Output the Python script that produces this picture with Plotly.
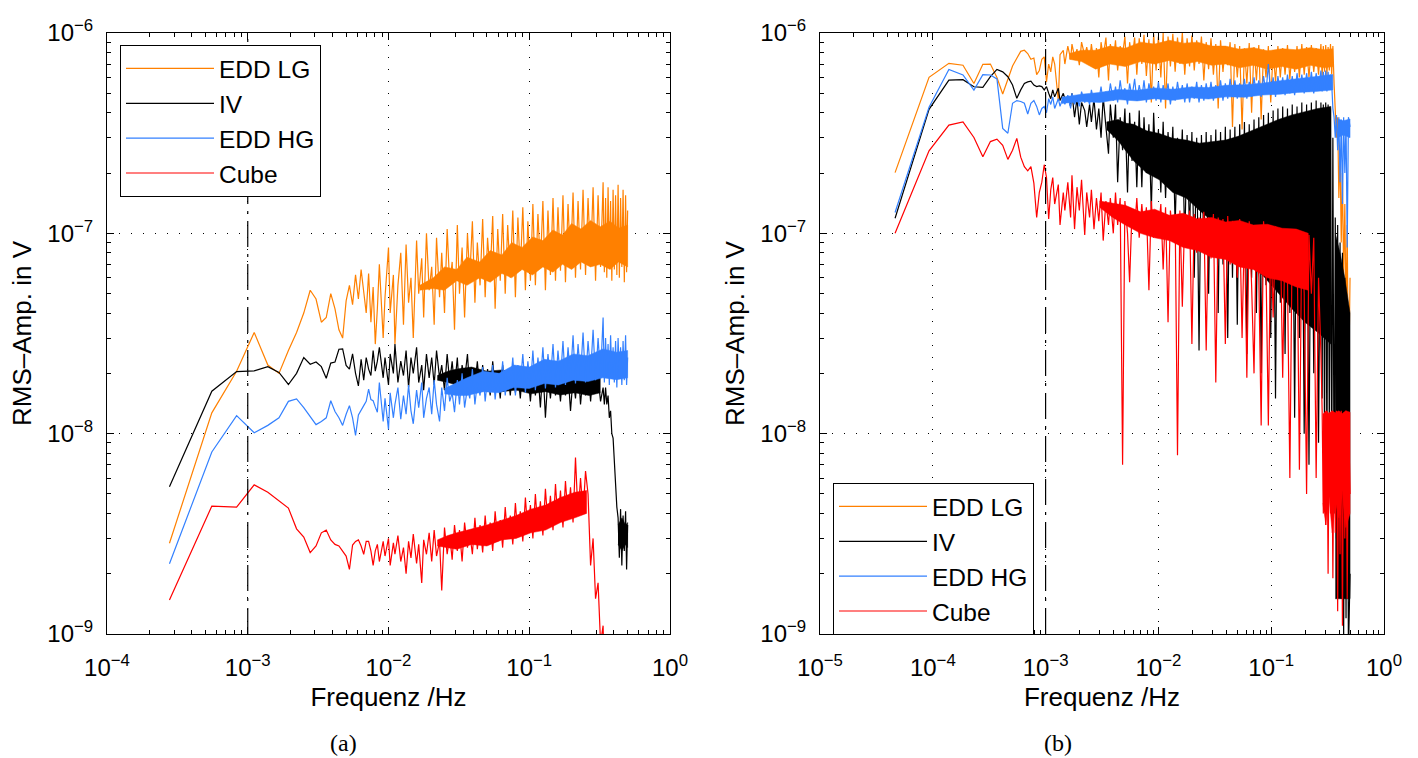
import plotly.graph_objects as go

# ---------------- data ----------------
# FFT bin indices; frequency = bin * resolution
DF_A = 1 / 3600.0      # Hz, panel (a)
DF_B = 1 / 21600.0     # Hz, panel (b)

bins_a = [
    1, 2, 3, 4, 5, 6, 7, 8, 9, 10,
    11, 12, 13, 14, 15, 16, 17, 18, 19, 20,
    21, 22, 23, 24, 25, 26, 27, 28, 29, 30,
    31, 33, 34, 36, 37, 39, 40, 42, 44, 46,
    48, 50, 52, 54, 57, 59, 62, 64, 67, 70,
    73, 76, 79, 83, 86, 90, 94, 98, 102, 106,
    111, 115, 120, 125, 131, 136, 142, 148, 154, 161,
    168, 175, 182, 190, 198, 206, 215, 224, 233, 243,
    253, 264, 275, 287, 299, 311, 324, 338, 352, 367,
    382, 398, 415, 432, 450, 469, 489, 509, 531, 553,
    576, 600, 625, 651, 679, 707, 737, 767, 800, 833,
    868, 904, 942, 982, 1023, 1065, 1110, 1156, 1205, 1230,
    1255, 1280, 1307, 1334, 1362, 1390, 1419, 1448, 1478, 1509,
    1540, 1572, 1604, 1637, 1671, 1705, 1741, 1770, 1800,
]

# amplitudes in nV, panel (a)
lg_a = [
    2.84, 12.7, 20.5, 32, 22, 20, 26, 32, 40, 52,
    47, 36, 38, 50, 42, 33, 30, 46, 55, 44,
    62, 47, 66, 50, 40, 63, 36, 54, 28, 42,
    70, 30, 48, 85, 40, 62, 28, 55, 80, 35,
    88, 45, 60, 30, 92, 50, 75, 38, 100, 52,
    68, 35, 95, 48, 80, 40, 105, 55, 72, 33,
    110, 50, 85, 38, 100, 60, 115, 45, 90, 55,
    118, 48, 95, 62, 122, 42, 105, 58, 125, 50,
    110, 60, 130, 48, 120, 65, 135, 52, 115, 58,
    140, 55, 125, 68, 145, 52, 130, 62, 150, 58,
    135, 65, 155, 57, 140, 70, 160, 60, 145, 66,
    165, 62, 150, 72, 170, 58, 155, 68, 180, 64,
    150, 60, 170, 70, 145, 58, 165, 66, 155, 62,
    175, 60, 150, 68, 165, 57, 155, 64, 130,
]
iv_a = [
    5.43, 16.3, 20.4, 20.6, 21.6, 20.2, 17.6, 20, 24, 22.2,
    22.8, 21.6, 18.9, 22.5, 22.8, 26.4, 26.5, 21.9, 21, 25,
    20, 17.3, 23.5, 18.5, 24, 21, 19.5, 26, 20.5, 23,
    27, 19, 24, 17.5, 25, 20, 28, 18, 23, 19.5,
    26, 17, 24, 20, 27, 18, 22, 16.5, 25, 19,
    24, 17.5, 26, 19, 22, 16.5, 25, 18, 23, 17,
    24, 16, 22, 18.5, 25, 16.5, 21, 17.5, 23, 16,
    22, 16.5, 21, 15.5, 23, 17, 20, 15, 22, 16.5,
    20.5, 15.5, 22, 16, 20, 15, 21.5, 16.5, 19.5, 14.5,
    21, 15.5, 20, 13.5, 21.5, 12, 19.5, 15, 20.5, 15.5,
    19.5, 14.5, 21, 15.5, 20, 13, 19, 15, 21.5, 14,
    19.5, 15.5, 22, 14.5, 21, 16, 19, 14.5, 17, 14,
    17, 14, 15.5, 12, 13, 10, 9.5, 7, 5.5, 4.3,
    3.8, 2.4, 4.2, 2.2, 3.9, 2.6, 4.1, 2.1, 3.5,
]
hg_a = [
    2.24, 8.1, 12.3, 10.1, 11, 12, 14.5, 14.9, 13.5, 12.2,
    11.1, 11.5, 12, 14.6, 12.9, 12, 11, 12.5, 13.8, 12,
    9.8, 12.4, 13, 13.8, 14.5, 16.7, 14.8, 14.6, 13.6, 12.8,
    18, 11.5, 15, 10.5, 16, 12, 14, 17, 11.8, 15.5,
    12.5, 17.5, 13, 11.2, 16.5, 13.5, 18, 12, 15, 17,
    12.5, 18.5, 14, 11.5, 17, 13, 19, 14.5, 16, 12.8,
    18.5, 14, 20, 13.5, 17, 15, 21, 14, 18, 15.5,
    21.5, 14.5, 19, 16, 22, 14.8, 20, 16.5, 23, 15.5,
    20.5, 17, 24, 15.5, 22, 17.5, 25, 16, 23, 17,
    26, 16.5, 24, 18, 27, 16.8, 25, 18.5, 28, 17,
    26, 18.5, 29, 17.5, 27, 19, 31, 17.8, 28, 19.5,
    32, 18, 29, 20, 33, 18.5, 30, 19.5, 38, 18,
    30, 19, 28, 17.5, 31, 20, 27, 18, 29, 17,
    30, 19, 27, 17.5, 29, 18.5, 31, 17.5, 24,
]
cube_a = [
    1.48, 4.35, 4.3, 5.55, 5.1, 4.6, 4.25, 3.35, 3.05, 2.55,
    2.75, 3.2, 3.3, 2.95, 2.8, 2.75, 2.6, 2.45, 2.1, 2.78,
    2.9, 2.95, 2.75, 2.5, 2.9, 2.9, 2.6, 2.2, 2.6, 2.8,
    2.3, 2.9, 2.45, 3.0, 2.2, 2.85, 2.5, 3.1, 2.3, 2.7,
    2.0, 2.9, 2.4, 3.15, 2.25, 2.8, 1.8, 2.95, 2.5, 3.2,
    2.3, 3.3, 2.45, 2.9, 1.65, 3.4, 2.5, 3.1, 2.35, 3.5,
    2.6, 3.3, 2.3, 3.6, 2.7, 3.2, 2.5, 3.8, 2.65, 3.5,
    2.55, 3.9, 2.8, 3.6, 2.6, 4.1, 2.9, 3.7, 2.7, 4.3,
    3.0, 3.9, 2.8, 4.5, 3.1, 4.1, 2.9, 4.8, 3.2, 4.4,
    3.0, 5.0, 3.3, 4.6, 3.1, 5.3, 3.5, 4.9, 3.3, 5.6,
    3.6, 5.2, 3.4, 5.8, 3.8, 5.4, 3.6, 7.6, 3.9, 6.0,
    4.0, 6.5, 5.0, 2.2, 3.0, 1.5, 1.8, 0.9, 1.1, 0.6,
    None, None, None, None, None, None, None, None, None, None,
    None, None, None, None, None, None, None, None, None,
]

# solid cores of the dense noise bands, panel (a): bins, low nV, high nV
band_lg_a = ([60, 75, 90, 110, 130, 160, 190, 230, 270, 320, 380, 450,
              530, 620, 720, 840, 980, 1150, 1350, 1550, 1800],
             [52, 53, 52, 58, 55, 60, 57, 63, 60, 66, 62, 68,
              64, 70, 66, 72, 68, 70, 66, 72, 68],
             [55, 60, 68, 66, 76, 72, 82, 78, 90, 85, 96, 92,
              104, 98, 112, 105, 116, 108, 115, 106, 110])
band_iv_a = ([80, 95, 110, 140, 180, 230, 290, 370, 470, 600, 760, 960, 1150,
              None, 1540, 1640, 1740, 1800],
             [18.5, 18, 17.5, 17, 16.8, 16.2, 16.5, 15.8, 16.2, 15.6, 16, 15.5, 16,
              None, 2.8, 2.6, 2.8, 2.7],
             [19.5, 20.5, 21, 21.5, 20.5, 20.8, 20, 20.4, 19.6, 20.2, 19.5, 20, 19.2,
              None, 3.5, 3.8, 3.5, 3.6])
band_hg_a = ([90, 110, 130, 170, 220, 280, 360, 460, 580, 740, 940, 1200, 1500, 1800],
             [15.8, 15.5, 15.5, 16.2, 16, 17, 16.8, 17.8, 17.5, 18.5, 18.2, 19, 18.6, 19],
             [16.8, 18, 19, 20.5, 20, 22, 21.5, 23.5, 23, 25, 24.5, 26.5, 25.5, 26])
band_cube_a = ([80, 95, 110, 140, 180, 230, 290, 370, 470, 600, 760, 920],
               [2.75, 2.7, 2.65, 2.8, 2.75, 2.95, 3.0, 3.2, 3.3, 3.6, 3.8, 4.0],
               [2.95, 3.1, 3.2, 3.35, 3.5, 3.7, 3.9, 4.2, 4.4, 4.8, 5.1, 5.2])

bins_b = [
    1, 2, 3, 4, 5, 6, 7, 8, 9, 10,
    11, 12, 13, 14, 15, 16, 17, 18, 19, 20,
    21, 22, 23, 24, 25, 26, 28, 29, 31, 32,
    34, 36, 37, 39, 41, 43, 45, 48, 50, 53,
    55, 58, 61, 64, 67, 70, 74, 78, 81, 86,
    90, 94, 99, 104, 109, 115, 120, 126, 133, 139,
    146, 154, 161, 169, 178, 187, 196, 206, 216, 227,
    238, 250, 263, 276, 290, 304, 319, 335, 352, 370,
    388, 408, 428, 449, 472, 495, 520, 546, 573, 602,
    632, 664, 697, 732, 768, 807, 847, 889, 934, 980,
    1029, 1081, 1135, 1192, 1251, 1314, 1379, 1448, 1521, 1597,
    1677, 1760, 1848, 1941, 2038, 2140, 2247, 2359, 2477, 2601,
    2731, 2867, 3011, 3161, 3319, 3485, 3659, 3842, 4035, 4236,
    4448, 4671, 4904, 5149, 5407, 5677, 5961, 6110, 6259, 6415,
    6572, 6735, 6901, 7070, 7246, 7425, 7608, 7795, 7988, 8185,
    8388, 8595, 8807, 9025, 9248, 9476, 9710, 9950, 10195, 10450,
    10800,
]

# amplitudes in nV, panel (b)
lg_b = [
    201, 601, 706, 690, 560, 698, 700, 600, 496, 580,
    684, 748, 810, 820, 790, 740, 750, 620, 650, 740,
    760, 570, 700, 640, 760, 700, 460, 780, 820, 700,
    860, 740, 880, 760, 830, 690, 900, 770, 850, 720,
    880, 700, 840, 600, 900, 760, 950, 580, 880, 720,
    920, 650, 860, 780, 960, 560, 900, 740, 950, 620,
    940, 700, 980, 610, 930, 450, 990, 650, 960, 600,
    1000, 420, 960, 680, 990, 640, 950, 700, 1000, 620,
    940, 680, 970, 650, 920, 700, 960, 580, 900, 660,
    940, 620, 880, 420, 920, 640, 860, 690, 900, 340,
    880, 600, 860, 330, 840, 560, 890, 400, 850, 580,
    870, 370, 830, 600, 860, 450, 820, 570, 860, 600,
    840, 620, 870, 590, 820, 640, 860, 600, 880, 620,
    850, 600, 870, 640, 840, 620, 880, 600, 860, 640,
    870, 610, 850, 650, 880, 620, 860, 560, 420, 300,
    380, 150, 260, 90, 200, 60, 140, 40, 110, 14,
    60,
]
iv_b = [
    119, 416, 582, 585, 539, 535, 605, 658, 640, 605,
    550, 472, 520, 560, 570, 575, 550, 540, 545, 540,
    520, 540, 500, 470, 520, 480, 530, 460, 500, 470,
    480, 430, 500, 380, 470, 350, 450, 410, 340, 440,
    360, 470, 330, 420, 300, 480, 340, 250, 440, 300,
    440, 180, 380, 260, 420, 160, 400, 230, 360, 170,
    410, 170, 380, 200, 350, 130, 400, 190, 330, 160,
    360, 150, 320, 180, 340, 110, 300, 160, 330, 90,
    310, 100, 320, 60, 300, 26, 310, 80, 320, 50,
    310, 90, 330, 40, 320, 70, 340, 30, 330, 60,
    340, 35, 350, 70, 360, 25, 350, 60, 370, 40,
    380, 20, 390, 55, 400, 30, 410, 15, 420, 45,
    430, 25, 420, 40, 440, 12, 430, 30, 450, 10,
    440, 7, 450, 20, 460, 9, 450, 15, 440, 8,
    450, 6, 440, 10, 420, 5, 300, 4, 120, 3,
    110, 2.5, 90, 1.5, 80, 0.9, 60, 1.2, 45, 0.8,
    2,
]
hg_b = [
    127, 426, 658, 617, 519, 620, 617, 590, 334, 316,
    446, 460, 455, 446, 394, 446, 460, 430, 390, 420,
    430, 400, 470, 440, 480, 420, 470, 430, 480, 440,
    490, 420, 500, 440, 480, 430, 510, 450, 490, 440,
    520, 450, 500, 460, 540, 450, 510, 470, 560, 460,
    540, 450, 580, 470, 530, 440, 560, 480, 590, 460,
    550, 470, 580, 450, 560, 480, 540, 460, 570, 450,
    550, 470, 560, 440, 540, 460, 570, 470, 550, 450,
    560, 450, 540, 470, 570, 450, 550, 460, 560, 470,
    570, 460, 550, 480, 580, 460, 560, 470, 590, 480,
    580, 470, 560, 490, 590, 470, 570, 480, 600, 490,
    580, 480, 610, 500, 700, 490, 600, 480, 610, 500,
    600, 490, 620, 500, 610, 490, 630, 510, 620, 500,
    630, 510, 640, 500, 630, 520, 650, 510, 640, 520,
    650, 510, 640, 520, 620, 560, 420, 380, 300, 390,
    260, 380, 180, 370, 140, 380, 200, 360, 85, 380,
    340,
]
cube_b = [
    100, 258, 347, 360, 301, 241, 287, 295, 275, 234,
    260, 298, 240, 215, 205, 215, 178, 120, 160, 180,
    220, 190, 118, 165, 190, 140, 175, 110, 160, 130,
    180, 120, 195, 105, 170, 130, 185, 98, 160, 120,
    165, 105, 150, 115, 160, 92, 145, 110, 150, 100,
    160, 110, 150, 7, 145, 100, 57, 130, 105, 150,
    95, 140, 100, 135, 52, 145, 95, 130, 100, 140,
    66, 135, 36, 130, 95, 125, 7.8, 130, 43, 125,
    90, 130, 28, 125, 80, 120, 85, 128, 26, 120,
    75, 125, 18, 120, 80, 118, 28, 122, 70, 115,
    110, 60, 118, 30, 112, 19, 115, 55, 20, 110,
    60, 11, 115, 70, 11, 110, 38, 108, 65, 105,
    19, 105, 60, 6, 102, 55, 100, 6.6, 100, 50,
    5, 98, 50, 95, 6, 60, 25, 13, 4, 12.5,
    3.5, 13, 2, 12.8, 4, 13, 1.9, 12.5, 3.2, 13,
    1.3, 12.8, 2.5, 13, 1.1, 12.6, 3, 13, 1.5, 12.8,
    5,
]

# solid cores of the dense noise bands, panel (b): bins, low nV, high nV
band_lg_b = ([35, 45, 60, 80, 110, 150, 200, 270, 360, 480, 640, 850,
              1130, 1500, 2000, 2700, 3600, 4800, 6400, 7600],
             [740, 720, 660, 700, 680, 720, 700, 730, 700, 720, 690, 700,
              670, 690, 660, 680, 660, 690, 670, 680],
             [790, 820, 820, 860, 840, 900, 880, 920, 890, 900, 860, 860,
              830, 845, 815, 835, 825, 845, 825, 835])
band_iv_b = ([75, 95, 110, 130, 170, 220, 290, 380, 500, 650, 850, 1100, 1450,
              1900, 2500, 3300, 4300, 5600, 7300, None, 8000, 8800, 9700, 10800],
             [330, 290, 260, 230, 200, 185, 160, 150, 130, 115, 95, 85, 70,
              60, 50, 42, 36, 32, 28, None, 1.5, 1.5, 1.5, 1.5],
             [360, 370, 355, 350, 325, 315, 298, 292, 282, 288, 292, 305, 325,
              345, 370, 390, 405, 420, 430, None, 100, 80, 60, 40])
band_hg_b = ([30, 45, 65, 95, 140, 200, 290, 420, 600, 860,
              1250, 1800, 2600, 3700, 5300, 7600, None, 8400, 9400, 10800],
             [445, 455, 450, 465, 458, 470, 462, 475, 468, 480,
              478, 490, 495, 505, 510, 520, None, 300, 310, 300],
             [478, 495, 505, 522, 518, 532, 524, 538, 534, 548,
              552, 562, 578, 592, 605, 620, None, 372, 365, 372])
band_cube_b = ([65, 85, 110, 150, 200, 270, 360, 480, 640, 850, 1130, 1500,
                2000, 2700, 3600, 4600, None, 6200, 6600, 7000, 7500, 8000,
                8600, 9200, 9900, 10800],
               [135, 120, 110, 100, 95, 92, 85, 82, 76, 74, 68, 66,
                60, 58, 54, 52, None, 4.5, 3.5, 5, 3.2, 4.6,
                3.8, 5.2, 3.4, 4],
               [145, 142, 138, 128, 132, 123, 126, 118, 120, 114, 116, 110,
                111, 106, 105, 100, None, 12.5, 13, 12.6, 13, 12.7,
                13, 12.6, 13, 12.8])

series_names = ["EDD LG", "IV", "EDD HG", "Cube"]
series_colors = ["#FF8000", "#000000", "#3380FF", "#FF0000"]

ref_freq = 1e-3                 # dash-dot marker frequency
y_limits = [1e-9, 1e-6]

x_ticks_a = [1e-4, 1e-3, 1e-2, 1e-1, 1]
x_text_a = ["10<sup>−4</sup>", "10<sup>−3</sup>", "10<sup>−2</sup>", "10<sup>−1</sup>", "10<sup>0</sup>"]
x_ticks_b = [1e-5, 1e-4, 1e-3, 1e-2, 1e-1, 1]
x_text_b = ["10<sup>−5</sup>", "10<sup>−4</sup>", "10<sup>−3</sup>", "10<sup>−2</sup>", "10<sup>−1</sup>", "10<sup>0</sup>"]
y_ticks = [1e-9, 1e-8, 1e-7, 1e-6]
y_text = ["10<sup>−9</sup>", "10<sup>−8</sup>", "10<sup>−7</sup>", "10<sup>−6</sup>"]

x_title = "Frequenz /Hz"
y_title = "RMS–Amp. in V"
captions = ["(a)", "(b)"]

# ---------------- figure ----------------
W, H = 1418, 758
FONT = "Liberation Sans, Arial, Helvetica, sans-serif"
DASHDOT = "26px,7px,3px,7px"


def volts(nv):
    return [None if v is None else v * 1e-9 for v in nv]


def band_polygon(band, df):
    """closed outline: upper envelope forwards, lower envelope backwards, per segment"""
    bins, lo, hi = band
    xs, ys = [], []
    seg = []
    for b, l, h in list(zip(bins, lo, hi)) + [(None, None, None)]:
        if b is None:
            if seg:
                xs += [s[0] * df for s in seg] + [s[0] * df for s in reversed(seg)] + [None]
                ys += [s[2] * 1e-9 for s in seg] + [s[1] * 1e-9 for s in reversed(seg)] + [None]
            seg = []
        else:
            seg.append((b, l, h))
    return xs, ys


fig = go.Figure()

panels = [
    ("x", "y", "legend", bins_a, DF_A, [lg_a, iv_a, hg_a, cube_a],
     [band_lg_a, band_iv_a, band_hg_a, band_cube_a]),
    ("x2", "y2", "legend2", bins_b, DF_B, [lg_b, iv_b, hg_b, cube_b],
     [band_lg_b, band_iv_b, band_hg_b, band_cube_b]),
]

for xa, ya, leg, bins, df, series, bands in panels:
    freqs = [k * df for k in bins]
    for name, col, vals, band in zip(series_names, series_colors, series, bands):
        bx, by = band_polygon(band, df)
        fig.add_trace(go.Scatter(x=bx, y=by, mode="lines", fill="toself", fillcolor=col,
                                 line=dict(color=col, width=0.5), showlegend=False,
                                 hoverinfo="skip", xaxis=xa, yaxis=ya))
        fig.add_trace(go.Scatter(x=freqs, y=volts(vals), mode="lines", name=name,
                                 line=dict(color=col, width=1.2),
                                 xaxis=xa, yaxis=ya, legend=leg))
    fig.add_trace(go.Scatter(x=[ref_freq, ref_freq], y=y_limits, mode="lines",
                             line=dict(color="black", width=1.2, dash=DASHDOT),
                             showlegend=False, hoverinfo="skip", xaxis=xa, yaxis=ya))


def minor_vals(lo, hi):
    return [m * 10.0 ** e for e in range(lo, hi) for m in range(2, 10)]


def axis_style(**kw):
    d = dict(type="log", showline=True, linecolor="black", linewidth=1,
             mirror="allticks", ticks="inside", ticklen=7, tickwidth=1, tickcolor="black",
             showgrid=True, gridcolor="black", gridwidth=1, griddash="1px,11px",
             zeroline=False, automargin=False,
             tickfont=dict(family=FONT, size=24, color="black"))
    d.update(kw)
    return d


def minor_style(lo, hi):
    return dict(ticks="inside", ticklen=4, tickcolor="black", tickwidth=1,
                showgrid=False, tickmode="array", tickvals=minor_vals(lo, hi))


dom_a = [107 / W, 670 / W]
dom_b = [820 / W, 1384 / W]
dom_y = [(H - 634) / H, (H - 33) / H]

legend_common = dict(xanchor="left", yanchor="top", bgcolor="white",
                     bordercolor="black", borderwidth=1,
                     font=dict(family=FONT, size=24.5, color="black"),
                     tracegroupgap=0, itemwidth=88)

fig.update_layout(
    width=W, height=H, template="none",
    margin=dict(l=0, r=0, t=0, b=0),
    paper_bgcolor="white", plot_bgcolor="white",
    font=dict(family=FONT, size=24, color="black"),
    xaxis=axis_style(domain=dom_a, anchor="y", range=[-4, 0],
                     tickmode="array", tickvals=x_ticks_a, ticktext=x_text_a,
                     ticklabelstandoff=12, minor=minor_style(-4, 0),
                     title=dict(text=x_title, font=dict(family=FONT, size=26), standoff=8)),
    yaxis=axis_style(domain=dom_y, anchor="x", range=[-9, -6],
                     tickmode="array", tickvals=y_ticks, ticktext=y_text,
                     ticklabelstandoff=8, minor=minor_style(-9, -6),
                     title=dict(text=y_title, font=dict(family=FONT, size=26), standoff=8)),
    xaxis2=axis_style(domain=dom_b, anchor="y2", range=[-5, 0],
                      tickmode="array", tickvals=x_ticks_b, ticktext=x_text_b,
                      ticklabelstandoff=12, minor=minor_style(-5, 0),
                      title=dict(text=x_title, font=dict(family=FONT, size=26), standoff=8)),
    yaxis2=axis_style(domain=dom_y, anchor="x2", range=[-9, -6],
                      tickmode="array", tickvals=y_ticks, ticktext=y_text,
                      ticklabelstandoff=8, minor=minor_style(-9, -6),
                      title=dict(text=y_title, font=dict(family=FONT, size=26), standoff=8)),
    legend=dict(x=120 / W, y=(H - 45) / H, **legend_common),
    legend2=dict(x=833 / W, y=(H - 483) / H, **legend_common),
    annotations=[
        dict(text=captions[0], x=343 / W, y=(H - 743) / H, xref="paper", yref="paper",
             showarrow=False, xanchor="center", yanchor="middle",
             font=dict(family="Liberation Serif, DejaVu Serif, serif", size=24, color="black")),
        dict(text=captions[1], x=1058 / W, y=(H - 743) / H, xref="paper", yref="paper",
             showarrow=False, xanchor="center", yanchor="middle",
             font=dict(family="Liberation Serif, DejaVu Serif, serif", size=24, color="black")),
    ],
)

fig.write_html("out.html")
